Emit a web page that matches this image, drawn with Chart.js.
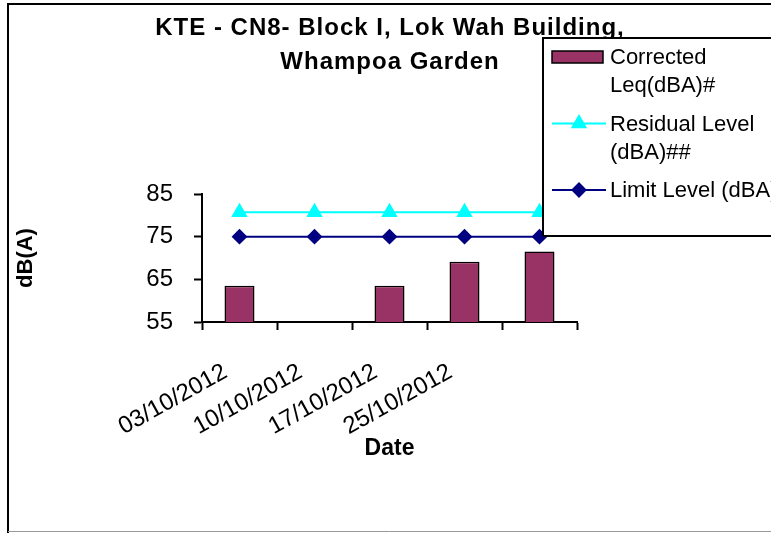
<!DOCTYPE html>
<html>
<head>
<meta charset="utf-8">
<script src="https://cdn.jsdelivr.net/npm/chart.js@4.4.1/dist/chart.umd.min.js"></script>
<style>
  body { margin: 0; background: #fff; }
  canvas { display: block; }
</style>
</head>
<body>
<canvas id="noiseChart" width="771" height="533"></canvas>
<script>
// データ
const titleLines = ['KTE - CN8- Block I, Lok Wah Building,', 'Whampoa Garden'];
const dates = ['03/10/2012', '10/10/2012', '17/10/2012', '25/10/2012', ''];
const correctedLeq = [63.5, null, 63.5, 69.1, 71.5];
const residualLevel = [80.7, 80.7, 80.7, 80.7, 80.7];
const limitLevel = [75, 75, 75, 75, 75];
const yTicks = [55, 65, 75, 85];

const FONT = '"Liberation Sans", Arial, sans-serif';

// 枠とタイトル（凡例の下に描く）
const frameAndTitle = {
    id: 'frameAndTitle',
    beforeDraw(chart) {
        const ctx = chart.ctx;
        ctx.save();
        ctx.fillStyle = '#fff';
        ctx.fillRect(0, 0, chart.width, chart.height);
        ctx.strokeStyle = '#000';
        ctx.lineWidth = 2;
        ctx.beginPath();
        ctx.moveTo(8, chart.height);
        ctx.lineTo(8, 4);
        ctx.lineTo(chart.width, 4);
        ctx.stroke();
        ctx.strokeStyle = '#999';
        ctx.lineWidth = 1;
        ctx.beginPath();
        ctx.moveTo(8, chart.height - 1.5);
        ctx.lineTo(chart.width, chart.height - 1.5);
        ctx.stroke();

        ctx.fillStyle = '#000';
        ctx.font = 'bold 24px ' + FONT;
        ctx.letterSpacing = '1px';
        ctx.textAlign = 'center';
        ctx.textBaseline = 'alphabetic';
        titleLines.forEach((line, i) => {
            ctx.fillText(line, 390, 35 + i * 34);
        });
        ctx.restore();
    }
};

// 凡例（Excel風の枠付き）
const boxLegend = {
    id: 'boxLegend',
    afterDraw(chart) {
        const ctx = chart.ctx;
        const left = 543, top = 38, bottom = 236;
        ctx.save();
        ctx.fillStyle = '#fff';
        ctx.fillRect(left, top, chart.width - left, bottom - top);
        ctx.strokeStyle = '#000';
        ctx.lineWidth = 2;
        ctx.beginPath();
        ctx.moveTo(left, bottom);
        ctx.lineTo(left, top);
        ctx.lineTo(chart.width, top);
        ctx.moveTo(left, bottom);
        ctx.lineTo(chart.width, bottom);
        ctx.stroke();

        ctx.font = '22px ' + FONT;
        ctx.textAlign = 'left';
        ctx.textBaseline = 'alphabetic';
        let y = 64;
        chart.data.datasets.forEach(ds => {
            // 折り返し
            const words = ds.label.split(' ');
            const lines = [];
            let cur = '';
            words.forEach(w => {
                const test = cur ? cur + ' ' + w : w;
                if (cur && ctx.measureText(test).width > 185) {
                    lines.push(cur);
                    cur = w;
                } else {
                    cur = test;
                }
            });
            lines.push(cur);

            const cy = y - 7;
            if (ds.type === 'line') {
                ctx.strokeStyle = ds.borderColor;
                ctx.lineWidth = 2;
                ctx.beginPath();
                ctx.moveTo(552, cy);
                ctx.lineTo(606, cy);
                ctx.stroke();
                ctx.fillStyle = ds.pointBackgroundColor;
                ctx.strokeStyle = ds.borderColor;
                Chart.helpers.drawPoint(ctx, {
                    pointStyle: ds.pointStyle,
                    radius: ds.pointRadius,
                    borderWidth: 1,
                    rotation: 0
                }, 579, cy);
            } else {
                ctx.fillStyle = ds.backgroundColor;
                ctx.fillRect(552, cy - 6, 51, 12);
                ctx.strokeStyle = '#000';
                ctx.lineWidth = 1.5;
                ctx.strokeRect(552, cy - 6, 51, 12);
            }

            ctx.fillStyle = '#000';
            lines.forEach((line, i) => {
                ctx.fillText(line, 610, y + i * 28);
            });
            y += (lines.length - 1) * 28 + 38.5;
        });
        ctx.restore();
    }
};

const ctx = document.getElementById('noiseChart').getContext('2d');

new Chart(ctx, {
    type: 'bar',
    data: {
        labels: dates,
        datasets: [
            {
                type: 'bar',
                label: 'Corrected Leq(dBA)#',
                data: correctedLeq,
                backgroundColor: '#993366',
                borderColor: '#000',
                borderWidth: 1.5,
                barPercentage: 0.4,
                categoryPercentage: 1,
                order: 3
            },
            {
                type: 'line',
                label: 'Residual Level (dBA)##',
                data: residualLevel,
                borderColor: '#00FFFF',
                backgroundColor: '#00FFFF',
                pointBackgroundColor: '#00FFFF',
                pointBorderColor: '#00FFFF',
                pointStyle: 'triangle',
                pointRadius: 7.5,
                borderWidth: 2,
                tension: 0,
                order: 1
            },
            {
                type: 'line',
                label: 'Limit Level (dBA)',
                data: limitLevel,
                borderColor: '#000080',
                backgroundColor: '#000080',
                pointBackgroundColor: '#000080',
                pointBorderColor: '#000080',
                pointStyle: 'rectRot',
                pointRadius: 6.5,
                borderWidth: 2,
                tension: 0,
                order: 2
            }
        ]
    },
    options: {
        responsive: false,
        animation: false,
        layout: {
            padding: { left: 13, right: 194, top: 194, bottom: 71 }
        },
        plugins: {
            legend: { display: false },
            title: { display: false },
            tooltip: { enabled: false }
        },
        scales: {
            x: {
                offset: true,
                grid: {
                    offset: true,
                    drawOnChartArea: false,
                    drawTicks: true,
                    tickLength: 8,
                    tickColor: '#000',
                    tickWidth: 2
                },
                border: { display: true, color: '#000', width: 2 },
                ticks: {
                    color: '#000',
                    font: { family: FONT, size: 24 },
                    minRotation: 29,
                    maxRotation: 29,
                    autoSkip: false,
                    padding: 28,
                    labelOffset: -14
                },
                title: {
                    display: true,
                    text: 'Date',
                    color: '#000',
                    font: { family: FONT, size: 23, weight: 'bold' },
                    padding: 0
                },
                afterFit(scale) {
                    scale.height = 140;
                }
            },
            y: {
                min: 55,
                max: 85,
                afterBuildTicks(scale) {
                    scale.ticks = yTicks.map(v => ({ value: v }));
                },
                grid: {
                    drawOnChartArea: false,
                    drawTicks: true,
                    tickLength: 8,
                    tickColor: '#000',
                    tickWidth: 2
                },
                border: { display: true, color: '#000', width: 2 },
                ticks: {
                    color: '#000',
                    font: { family: FONT, size: 24 },
                    padding: 21
                },
                title: {
                    display: true,
                    text: 'dB(A)',
                    color: '#000',
                    font: { family: FONT, size: 22, weight: 'bold' },
                    padding: 0
                },
                afterFit(scale) {
                    scale.width = 189;
                }
            }
        }
    },
    plugins: [frameAndTitle, boxLegend]
});
</script>
</body>
</html>
